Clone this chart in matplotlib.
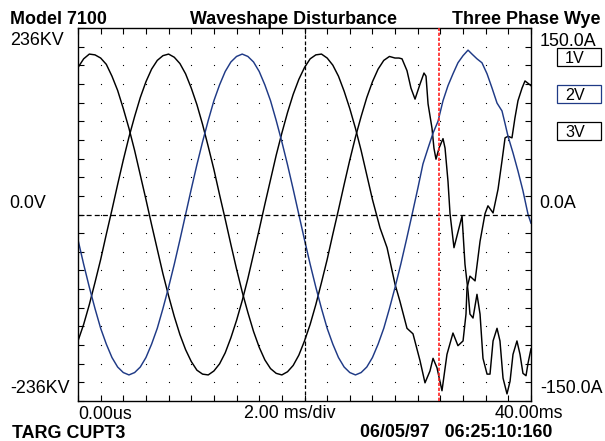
import numpy as np
import matplotlib.pyplot as plt
from matplotlib.patches import Rectangle

W, H = 605, 441

# smooth part of each trace is read every 0.5 ms from t = 0
STEP = 0.5

# phase 1 (black), KV
p1_smooth = [186, 197, 203, 202, 198, 190, 175, 157, 134, 109, 81, 50, 19,
             -13, -44, -75, -103, -129, -152, -171, -186, -197, -202, -203,
             -198, -189, -175, -156, -134, -109, -81, -50, -19,
             13, 44, 75, 103, 129, 152, 171, 186, 197, 202, 203,
             198, 189, 175, 156, 134, 109, 81, 50, 19]
p1_trace_t = [26.67, 27.29, 27.55, 27.99, 28.43, 29.05, 29.58, 30.20, 30.64,
              31.08, 31.35, 31.70, 32.14, 32.58, 33.11, 33.55, 34.00, 34.26,
              34.35, 34.61, 35.06, 35.50, 35.94, 36.20, 36.65, 37.09, 37.44,
              37.71, 37.97, 38.32, 38.58, 38.85, 39.21, 39.47, 39.74, 40.00]
p1_trace = [-17, -42, -59, -88, -110, -144, -151, -185, -213,
            -198, -182, -194, -223, -177, -150, -166, -160, -126,
            -93, -78, -84, -34, 1, 11, 2, 32, 68,
            97, 99, 97, 122, 144, 160, 169, 166, 163]

# phase 2 (black), KV
p2_smooth = [-160, -139, -114, -86, -57, -25, 6, 38, 69, 98, 124, 148, 168,
             184, 195, 201, 203,
             199, 191, 178, 160, 139, 114, 86, 57, 25, -6, -38, -69, -98,
             -124, -148, -168, -184, -195, -201, -203,
             -199, -191, -178, -160, -139, -114, -86, -57, -25, 6, 38, 69,
             98, 124, 148, 168, 184, 195, 200]
p2_trace_t = [27.99, 28.34, 28.61, 29.05, 29.40, 29.76, 30.20, 30.55, 30.73,
              30.91, 31.26, 31.43, 31.61, 31.88, 32.23, 32.41, 32.67, 32.85,
              33.20, 33.91, 34.17, 34.44, 34.61, 34.88, 35.23, 35.50, 35.76,
              36.12, 36.38, 36.65, 37.00, 37.26, 37.53, 37.88, 38.15, 38.41,
              38.76, 39.03, 39.29, 39.56, 39.74, 40.00]
p2_trace = [198, 198, 197, 182, 160, 146, 165, 179, 175,
            140, 109, 84, 70, 84, 96, 84, 42, 1,
            -42, -2, -63, -97, -126, -131, -101, -126, -182,
            -202, -202, -160, -144, -160, -207, -227, -211, -177,
            -160, -177, -201, -204, -188, -170]

# phase 3 (blue), KV
p3_smooth = [-32, -63, -92, -119, -144, -164, -181, -193, -200, -203,
             -200, -193, -181, -164, -144, -119, -92, -63, -32, 0,
             32, 63, 92, 119, 144, 164, 181, 193, 200, 203,
             200, 193, 181, 164, 144, 119, 92, 63, 32, 0,
             -32, -63, -92, -119, -144, -164, -181, -193, -200, -203,
             -200, -193, -181, -164, -144, -119, -92, -63, -32, 0]
p3_trace_t = [30.02, 30.46, 30.91, 31.35, 31.79, 32.23, 32.67, 33.11, 33.55,
              34.00, 34.44, 34.79, 35.23, 35.67, 36.12, 36.56, 37.00, 37.44,
              37.71, 37.97, 38.41, 38.85, 39.29, 39.74, 40.00]
p3_trace = [34, 64, 84, 103, 118, 144, 163, 178, 192,
            201, 208, 203, 197, 192, 178, 160, 141, 131,
            115, 99, 78, 55, 30, 0, -11]

CURSOR_MS = 20.0
EVENT_MS = 31.9
X_TICKS = np.arange(0, 41, 2)
Y_TICKS = np.linspace(-236, 236, 21)


def series(smooth, trace_t, trace):
    t = np.concatenate([np.arange(len(smooth)) * STEP, trace_t])
    return t, np.concatenate([smooth, trace])


def fig_xy(x, y):
    return x / W, 1 - y / H


plt.rcParams['font.family'] = ['Liberation Sans', 'DejaVu Sans']

fig = plt.figure(figsize=(W / 100, H / 100), dpi=100)
ax = fig.add_axes([78 / W, 1 - 401 / H, (531 - 78) / W, (401 - 28) / H])
ax.set_xlim(0, 40)
ax.set_ylim(-236, 236)

# dotted grid
gx, gy = np.meshgrid(X_TICKS[1:-1], Y_TICKS[1:-1])
ax.plot(gx.ravel(), gy.ravel(), ls='none', marker='s', ms=0.8, mew=0,
        color='black', zorder=1)

blue = '#1f3a86'
for (s, tt, tv), c in [((p1_smooth, p1_trace_t, p1_trace), 'black'),
                       ((p2_smooth, p2_trace_t, p2_trace), 'black'),
                       ((p3_smooth, p3_trace_t, p3_trace), blue)]:
    t, v = series(s, tt, tv)
    ax.plot(t, v, color=c, lw=1.05, zorder=2)

ax.axhline(0, color='black', lw=0.9, dashes=(4, 2.5), zorder=3)
ax.axvline(CURSOR_MS, color='black', lw=0.9, dashes=(3, 2), zorder=3)
ax.axvline(EVENT_MS, color='#ff2020', lw=1.2, dashes=(2, 1), zorder=3)

ax.set_xticks(X_TICKS)
ax.set_yticks(Y_TICKS)
ax.tick_params(direction='in', length=4.5, width=0.8, top=True, right=True,
               labelbottom=False, labelleft=False)
for sp in ax.spines.values():
    sp.set_linewidth(1.0)

# header / footer / scale labels
bold = dict(fontsize=12.9, fontweight='bold', va='baseline')
reg = dict(fontsize=12.9, va='baseline')
fig.text(*fig_xy(10, 24), 'Model 7100', ha='left', **bold)
fig.text(*fig_xy(294, 23.5), 'Waveshape Disturbance', ha='center', **bold)
fig.text(*fig_xy(600, 24), 'Three Phase Wye', ha='right', **bold)
fig.text(*fig_xy(12, 438), 'TARG CUPT3', ha='left', **bold)
fig.text(*fig_xy(360, 437), '06/05/97   06:25:10:160', ha='left', **bold)

fig.text(*fig_xy(10, 45), '236KV', ha='left', **reg)
fig.text(*fig_xy(9, 208), '0.0V', ha='left', **reg)
fig.text(*fig_xy(10, 393), '-236KV', ha='left', **reg)
fig.text(*fig_xy(540, 46.5), '150.0A', ha='left', **reg)
fig.text(*fig_xy(539, 208), '0.0A', ha='left', **reg)
fig.text(*fig_xy(540, 393), '-150.0A', ha='left', **reg)
fig.text(*fig_xy(78, 419), '0.00us', ha='left', **reg)
fig.text(*fig_xy(290, 418), '2.00 ms/div', ha='center', **reg)
fig.text(*fig_xy(563, 418), '40.00ms', ha='right', **reg)

# channel boxes
for label, top, ec in [('1V', 48, 'black'), ('2V', 85, blue), ('3V', 122, 'black')]:
    x0, y0 = fig_xy(557, top + 18)
    fig.patches.append(Rectangle((x0, y0), 44 / W, 18 / H, transform=fig.transFigure,
                                 fill=False, edgecolor=ec, lw=0.9))
    fig.text(*fig_xy(565, top + 15), label, ha='left', va='baseline', fontsize=11.6)

fig.savefig('out.png', dpi=100)
